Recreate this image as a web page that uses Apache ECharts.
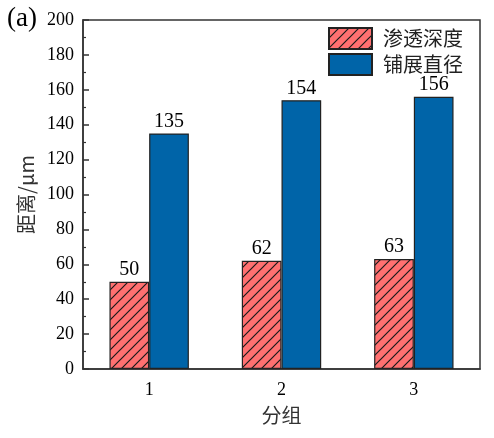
<!DOCTYPE html>
<html>
<head>
<meta charset="utf-8">
<script src="https://cdn.jsdelivr.net/npm/echarts@6/dist/echarts.min.js"></script>
<style>
html,body{margin:0;padding:0;background:#fff;}
#c{width:494px;height:438px;}
</style>
</head>
<body>
<div id="c"></div>
<script>
const categories = ['1', '2', '3'];
const seriesNames = ['渗透深度', '铺展直径'];
const penetrationDepth = [50, 62, 63];
const spreadDiameter = [135, 154, 156];
const yTicks = [0, 20, 40, 60, 80, 100, 120, 140, 160, 180, 200];

function hatch() {
  const s = 10;
  const cv = document.createElement('canvas');
  cv.width = s; cv.height = s;
  const g = cv.getContext('2d');
  g.fillStyle = '#FF7070';
  g.fillRect(0, 0, s, s);
  g.strokeStyle = '#1a1a1a';
  g.lineWidth = 1.2;
  g.beginPath();
  g.moveTo(0, s); g.lineTo(s, 0);
  g.moveTo(-s / 2, s / 2); g.lineTo(s / 2, -s / 2);
  g.moveTo(s / 2, s * 1.5); g.lineTo(s * 1.5, s / 2);
  g.stroke();
  return cv;
}

const serif = 'Liberation Serif, Times New Roman, serif';
const cjk = 'Noto Sans CJK SC, sans-serif';

const chart = echarts.init(document.getElementById('c'));
chart.setOption({
  animation: false,
  backgroundColor: '#fff',
  graphic: [{
    type: 'text', left: 7, top: 5,
    style: { text: '(a)', font: '27px ' + serif, fill: '#000' }
  }],
  grid: {
    left: 83, top: 20, right: 14, bottom: 69,
    show: true, borderColor: '#333', borderWidth: 1.5
  },
  legend: {
    right: 26, top: 22, orient: 'vertical', padding: 5,
    itemWidth: 43, itemHeight: 21, itemGap: 3, icon: 'rect',
    textStyle: { fontFamily: cjk, fontSize: 20, lineHeight: 21, color: '#222', padding: [0, 0, 0, 6] },
    data: seriesNames
  },
  xAxis: {
    type: 'category', data: categories,
    name: '分组', nameLocation: 'middle', nameGap: 36,
    nameTextStyle: { fontFamily: cjk, fontSize: 20, color: '#333' },
    axisLine: { lineStyle: { color: '#333', width: 1.5 } },
    axisTick: { show: false },
    axisLabel: { fontFamily: serif, fontSize: 18, color: '#000', margin: 12 }
  },
  yAxis: {
    type: 'value', min: yTicks[0], max: yTicks[yTicks.length - 1], interval: 20,
    name: '距离/μm', nameLocation: 'middle', nameGap: 45, nameRotate: 90,
    nameTextStyle: { fontFamily: cjk, fontSize: 20, color: '#333' },
    axisLine: { show: true, lineStyle: { color: '#333', width: 1.5 } },
    axisTick: { show: true, inside: true, length: 6, lineStyle: { color: '#333', width: 1.5 } },
    minorTick: { show: true, splitNumber: 2, length: 3, lineStyle: { color: '#333', width: 1.2 } },
    splitLine: { show: false },
    axisLabel: { fontFamily: serif, fontSize: 18, color: '#000', margin: 9 }
  },
  series: [
    {
      name: seriesNames[0], type: 'bar', data: penetrationDepth,
      barWidth: '30%', barGap: '0%',
      itemStyle: { color: { image: hatch(), repeat: 'repeat' }, borderColor: '#222', borderWidth: 1.2 },
      label: { show: true, position: 'top', distance: 2, fontFamily: serif, fontSize: 20, color: '#000' }
    },
    {
      name: seriesNames[1], type: 'bar', data: spreadDiameter,
      barWidth: '30%', barGap: '0%',
      itemStyle: { color: '#0064A8', borderColor: '#222', borderWidth: 1.2 },
      label: { show: true, position: 'top', distance: 2, fontFamily: serif, fontSize: 20, color: '#000' }
    }
  ]
});
</script>
</body>
</html>
